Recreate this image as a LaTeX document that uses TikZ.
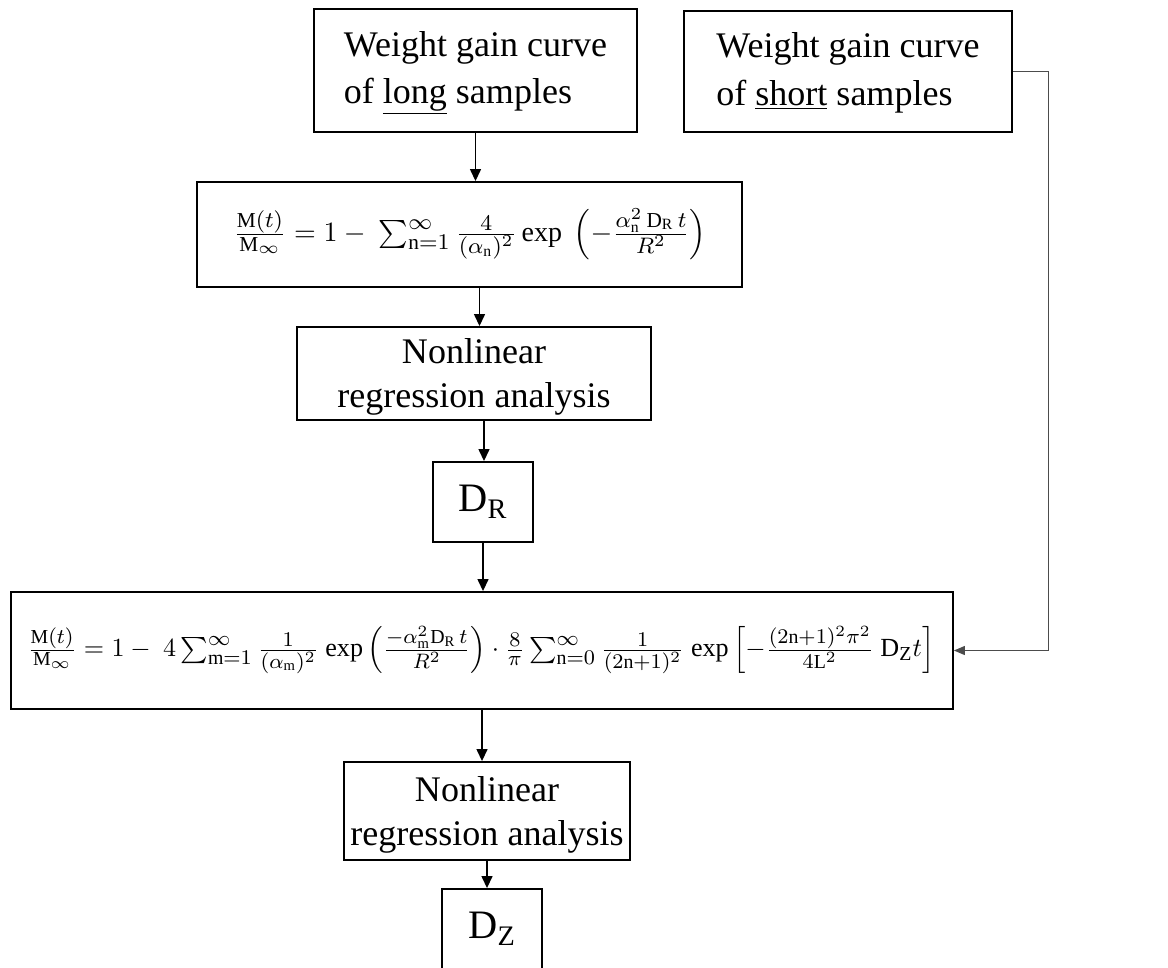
\documentclass[tikz,border=0pt]{standalone}
\usepackage{graphicx}
\usepackage{fontspec}
\setmainfont{Liberation Serif}
\DeclareMathSizes{10}{10}{7.6}{5.6}
\usetikzlibrary{arrows.meta}
\begin{document}
\begin{tikzpicture}[x=0.02cm,y=-0.02cm,
  box/.style={draw,line width=1.1pt,inner sep=0pt,align=center},
  txt/.style={font=\fontsize{20.5}{27}\selectfont},
  nltxt/.style={font=\fontsize{20.5}{25}\selectfont},
  dtxt/.style={font=\fontsize{23}{27}\selectfont},
  arr/.style={line width=0.8pt,-{Triangle[length=0.24cm,width=0.22cm]}},
  link/.style={line width=0.6pt,draw=black!70,-{Triangle[length=0.22cm,width=0.18cm]}}]
\useasboundingbox (0,0) rectangle (1168,967);
\clip (0,0) rectangle (1168,967);

% boxes
\node[box,minimum width=6.46cm,minimum height=2.46cm] (long) at (475.5,70.5) {};
\node[box,minimum width=6.56cm,minimum height=2.42cm] (short) at (848,71.5) {};
\node[box,minimum width=10.9cm,minimum height=2.1cm] (eq1) at (469.5,234.5) {};
\node[box,minimum width=7.08cm,minimum height=1.86cm] (nl1) at (474,373.5) {};
\node[box,minimum width=2.0cm,minimum height=1.6cm] (dr) at (483,502) {};
\node[box,minimum width=18.84cm,minimum height=2.34cm] (eq2) at (482,650.5) {};
\node[box,minimum width=5.72cm,minimum height=1.96cm] (nl2) at (487,811) {};
\node[box,minimum width=2.0cm,minimum height=1.6cm] (dz) at (492,929) {};

% texts
\node[txt,align=left] (tlong) at (475.5,73) {Weight gain curve\\of \underline{long} samples};
\node[txt,align=left] (tshort) at (848,73) {Weight gain curve\\of \underline{short} samples};
\node (teq1) at (470,234) {\resizebox{9.46cm}{!}{$\frac{\mathrm{M}(t)}{\mathrm{M}_{\infty}} = 1 -\ \sum_{\mathrm{n}=1}^{\infty}\frac{4}{(\alpha_{\mathrm{n}})^{2}}\,\mathrm{exp}\ \left(-\frac{\alpha_{\mathrm{n}}^{2}\,\mathrm{D}_{\mathrm{R}}\,t}{R^{2}}\right)$}};
\node[nltxt,align=center] (tnl1) at (474,377) {Nonlinear\\regression analysis};
\node[dtxt] (tdr) at (483,502) {D\textsubscript{R}};
\node (teq2) at (481,650) {\resizebox{18.14cm}{!}{$\frac{\mathrm{M}(t)}{\mathrm{M}_{\infty}} = 1 -\ 4\sum_{\mathrm{m}=1}^{\infty}\frac{1}{(\alpha_{\mathrm{m}})^{2}}\ \mathrm{exp}\left(\frac{-\alpha_{\mathrm{m}}^{2}\mathrm{D}_{\mathrm{R}}\,t}{R^{2}}\right)\cdot\frac{8}{\pi}\sum_{\mathrm{n}=0}^{\infty}\frac{1}{(2\mathrm{n}+1)^{2}}\ \mathrm{exp}\left[-\frac{(2\mathrm{n}+1)^{2}\pi^{2}}{4\mathrm{L}^{2}}\ \mathrm{D}_{\mathrm{Z}}t\right]$}};
\node[nltxt,align=center] (tnl2) at (487,815) {Nonlinear\\regression analysis};
\node[dtxt] (tdz) at (492,929) {D\textsubscript{Z}};

% connectors
\draw[arr] (long.south) -- (long.south |- eq1.north);
\draw[arr] ([xshift=0.2cm]eq1.south) -- ([xshift=0.2cm]eq1.south |- nl1.north);
\draw[arr] ([xshift=0.2cm]nl1.south) -- ([xshift=0.2cm]nl1.south |- dr.north);
\draw[arr] (dr.south) -- (dr.south |- eq2.north);
\draw[arr] (eq2.south) -- (eq2.south |- nl2.north);
\draw[arr] (nl2.south) -- (nl2.south |- dz.north);
\draw[link] (short.east) -- ++(36,0) |- (eq2.east);
\end{tikzpicture}
\end{document}
